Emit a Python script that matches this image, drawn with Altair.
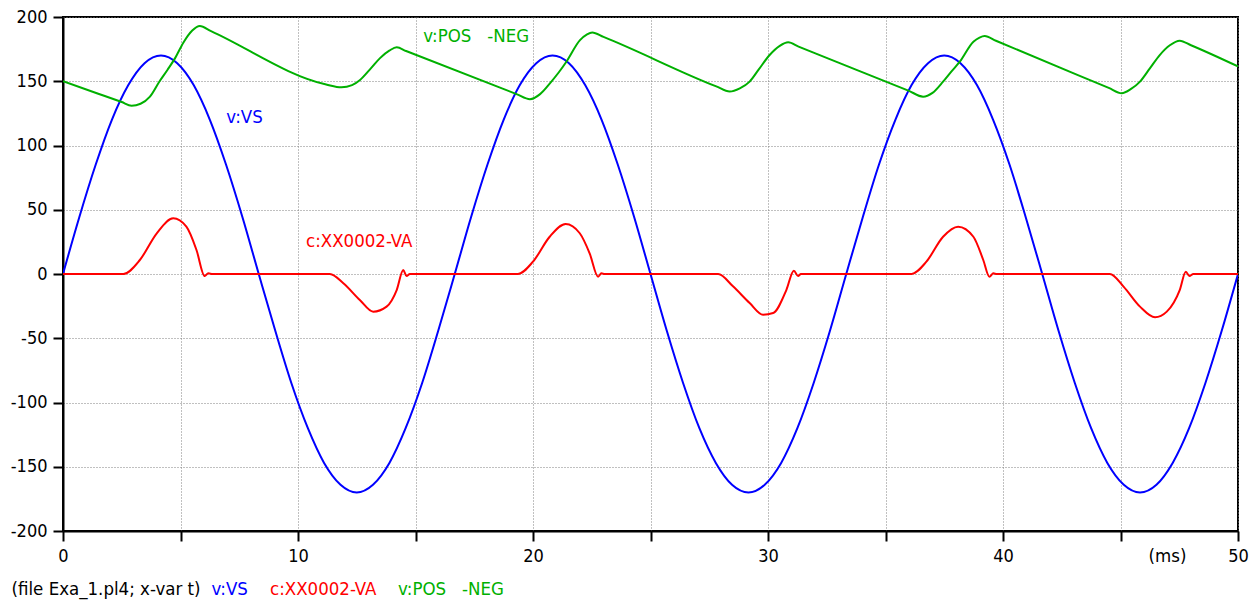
import altair as alt
import pandas as pd

FONT = "DejaVu Sans Condensed"
BLUE = "#0000FF"
RED = "#FF0000"
GREEN = "#00B000"

# ---- v:VS (source voltage) ----
vs_t = [0.00, 0.69, 1.39, 2.08, 2.78, 3.47, 4.17, 4.86, 5.56, 6.25, 6.94, 7.64,
        8.33, 9.03, 9.72, 10.42, 11.11, 11.81, 12.50, 13.19, 13.89, 14.58, 15.28, 15.97,
        16.67, 17.36, 18.06, 18.75, 19.44, 20.14, 20.83, 21.53, 22.22, 22.92, 23.61, 24.31,
        25.00, 25.69, 26.39, 27.08, 27.78, 28.47, 29.17, 29.86, 30.56, 31.25, 31.94, 32.64,
        33.33, 34.03, 34.72, 35.42, 36.11, 36.81, 37.50, 38.19, 38.89, 39.58, 40.28, 40.97,
        41.67, 42.36, 43.06, 43.75, 44.44, 45.14, 45.83, 46.53, 47.22, 47.92, 48.61, 49.31,
        50.00]
vs_v = [0, 44, 85, 120, 147, 164, 170, 164, 147, 120, 85, 44,
        0, -44, -85, -120, -147, -164, -170, -164, -147, -120, -85, -44,
        0, 44, 85, 120, 147, 164, 170, 164, 147, 120, 85, 44,
        0, -44, -85, -120, -147, -164, -170, -164, -147, -120, -85, -44,
        0, 44, 85, 120, 147, 164, 170, 164, 147, 120, 85, 44,
        0, -44, -85, -120, -147, -164, -170, -164, -147, -120, -85, -44,
        0]

# ---- c:XX0002-VA (current) ----
xx_t = [0, 2.57, 3.27, 3.99, 4.69, 5.25, 5.68, 6.03, 6.18, 6.37,
        11.36, 11.93, 12.63, 13.2, 13.77, 14.2, 14.48, 14.62, 14.76, 19.36,
        20.0, 20.71, 21.39, 21.99, 22.41, 22.77, 22.91, 23.05, 27.88, 28.51,
        29.22, 29.79, 30.22, 30.78, 31.1, 31.28, 31.4, 36.11, 36.74, 37.45,
        38.09, 38.74, 39.16, 39.42, 39.59, 39.73, 44.55, 45.12, 45.83, 46.47,
        46.97, 47.52, 47.78, 47.93, 48.1, 50]
xx_v = [0, 0, 10.9, 31.7, 43.3, 36.8, 18.7, -1.6, 0.5, 0,
        0, -7.2, -20.2, -29.3, -25.4, -12.5, 3.1, -1.6, 0, 0,
        9.6, 29, 38.9, 31.7, 16.1, -2.1, 0.5, 0, 0, -9.6,
        -22.6, -31.7, -30.4, -12.5, 2.6, -1.6, 0, 0, 9.6, 29,
        36.8, 29, 10.9, -2.1, 0.5, 0, 0, -9.6, -25.4, -33.7,
        -29.3, -12.5, 1.8, -1.6, 0, 0]

# ---- v:POS -NEG (output voltage) ----
pos_t = [0, 1.5, 2.5, 2.92, 3.3, 3.7, 4.11, 4.45, 4.77, 5.12,
         5.5, 5.82, 6.3, 11.2, 11.85, 12.3, 12.64, 13.1, 13.49, 13.9,
         14.2, 14.6, 19.3, 19.87, 20.3, 20.72, 21.1, 21.42, 22.0, 22.3,
         22.52, 23.0, 27.8, 28.37, 28.8, 29.22, 29.6, 30.07, 30.5, 30.86,
         31.3, 36.0, 36.6, 37.0, 37.45, 37.8, 38.16, 38.74, 39.0, 39.22,
         39.7, 44.5, 45.05, 45.45, 45.83, 46.25, 46.67, 47.1, 47.52, 48.0,
         50.0]
pos_v = [150, 140.3, 133.8, 131, 132.5, 138, 150, 159, 168, 180,
         189.5, 193, 189, 147.5, 145.3, 147, 151, 160, 168, 174,
         176.4, 173.5, 140, 136, 140, 148.4, 157, 165.2, 182, 186.5,
         188, 184.5, 146, 142, 144.5, 149.7, 159, 170.4, 177.5, 180.3,
         177, 142.5, 138, 141, 149.7, 157.5, 165.2, 180.8, 184, 185.2,
         181.5, 144.8, 140.6, 144, 149.7, 160, 170.4, 178, 181.6, 178,
         161.5]

# ---- axes ----
x_ticks = [0, 5, 10, 15, 20, 25, 30, 35, 40, 45, 50]
y_ticks = [-200, -150, -100, -50, 0, 50, 100, 150, 200]

# ---- in-plot curve labels (anchored in data coordinates) ----
label_text = ["v:VS", "c:XX0002-VA", "v:POS\u00a0\u00a0\u00a0-NEG"]
label_t = [6.95, 10.34, 15.33]
label_v = [117.3, 21.2, 180.8]
label_color = [BLUE, RED, GREEN]

# ---- bottom caption ----
caption_text = ["(file Exa_1.pl4; x-var t)", "v:VS", "c:XX0002-VA", "v:POS\u00a0\u00a0\u00a0-NEG"]
caption_color = ["#000000", BLUE, RED, GREEN]
caption_px = [-51.5, 148.5, 207, 335]

unit_text = "(ms)"
unit_t = 47.0

xscale = alt.Scale(domain=[0, 50], nice=False, zero=False)
yscale = alt.Scale(domain=[-200, 200], nice=False, zero=False)

xenc = alt.X("t:Q", scale=xscale,
             axis=alt.Axis(values=x_ticks, title=None, grid=True,
                           labelExpr="datum.value % 10 == 0 ? '' + datum.value : ''",
                           labelPadding=6, labelFlush=False))
yenc = alt.Y("v:Q", scale=yscale,
             axis=alt.Axis(values=y_ticks, title=None, grid=True,
                           labelExpr="'' + datum.value", labelPadding=6))


def curve(ts, vs, color):
    df = pd.DataFrame({"t": ts, "v": vs})
    return alt.Chart(df).mark_line(color=color, strokeWidth=2, interpolate="monotone",
                                   clip=True).encode(x=xenc, y=yenc)


layers = [curve(vs_t, vs_v, BLUE), curve(xx_t, xx_v, RED), curve(pos_t, pos_v, GREEN)]

lab_df = pd.DataFrame({"t": label_t, "v": label_v, "txt": label_text, "col": label_color})
layers.append(
    alt.Chart(lab_df).mark_text(align="left", baseline="alphabetic", font=FONT, fontSize=18.5)
    .encode(x=xenc, y=yenc, text="txt:N", color=alt.Color("col:N", scale=None))
)

unit_df = pd.DataFrame({"t": [unit_t], "txt": [unit_text]})
layers.append(
    alt.Chart(unit_df).mark_text(align="center", baseline="alphabetic", font=FONT,
                                 fontSize=18.5, color="#000000")
    .encode(x=xenc, y=alt.value(545), text="txt:N")
)

for txt, col, px in zip(caption_text, caption_color, caption_px):
    cdf = pd.DataFrame({"txt": [txt]})
    layers.append(
        alt.Chart(cdf).mark_text(align="left", baseline="alphabetic", font=FONT,
                                 fontSize=18.5, color=col)
        .encode(x=alt.value(px), y=alt.value(578), text="txt:N")
    )

chart = (
    alt.layer(*layers)
    .properties(width=1175, height=514,
                autosize=alt.AutoSizeParams(type="none"),
                padding={"left": 63, "top": 17, "right": 19, "bottom": 70},
                background="white")
    .configure_view(stroke="#000000", strokeWidth=2)
    .configure_axis(
        labelFont=FONT, labelFontSize=18, labelColor="#000000",
        domainColor="#000000", domainWidth=2,
        tickColor="#000000", tickWidth=2, tickSize=10,
        gridColor="#808080", gridDash=[1, 2], gridWidth=1,
    )
)

chart.save("out.html", embed_options={"renderer": "svg", "actions": False})
